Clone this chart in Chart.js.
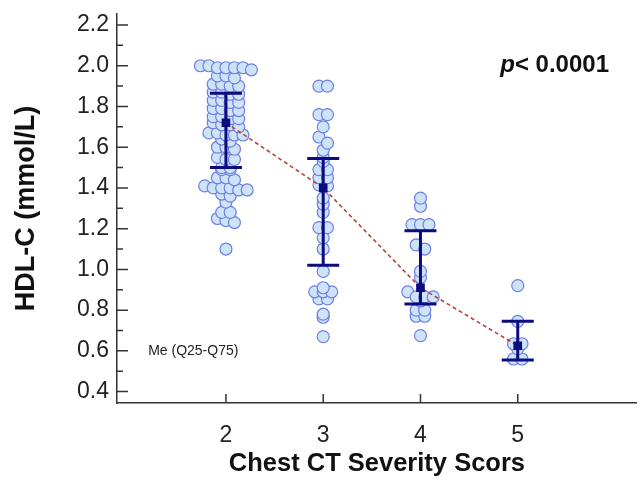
<!DOCTYPE html>
<html>
<head>
<meta charset="utf-8">
<script src="https://cdn.jsdelivr.net/npm/chart.js@4.4.1/dist/chart.umd.min.js"></script>
<style>
  html, body { margin: 0; padding: 0; background: #fff; }
  #wrap { width: 644px; height: 488px; }
</style>
</head>
<body>
<div id="wrap"><canvas id="myChart"></canvas></div>
<script>
// severity score groups and HDL-C values
var groups = [2, 3, 4, 5];
var hdl2 = [2.00, 2.00, 1.99, 1.99, 1.99, 1.99, 1.98, 1.95, 1.95, 1.94, 1.91, 1.91, 1.90, 1.90,
  1.87, 1.87, 1.86, 1.86, 1.83, 1.83, 1.82, 1.82, 1.79, 1.79, 1.78, 1.78, 1.75, 1.75, 1.74, 1.74,
  1.72, 1.71, 1.71, 1.70, 1.67, 1.67, 1.66, 1.66, 1.66, 1.64, 1.63, 1.60, 1.60, 1.59,
  1.55, 1.54, 1.54, 1.50, 1.50, 1.49, 1.49, 1.45, 1.45, 1.44, 1.41, 1.40, 1.40, 1.40, 1.39, 1.39,
  1.37, 1.36, 1.33, 1.28, 1.28, 1.25, 1.24, 1.23, 1.10];
var hdl3 = [1.90, 1.90, 1.76, 1.76, 1.70, 1.65, 1.62, 1.585, 1.55, 1.53, 1.49, 1.49, 1.45, 1.45,
  1.415, 1.41, 1.35, 1.32, 1.28, 1.205, 1.205, 1.155, 1.10, 0.99, 0.91, 0.89, 0.89, 0.89,
  0.855, 0.855, 0.78, 0.765, 0.67];
var hdl4 = [1.35, 1.31, 1.22, 1.22, 1.22, 1.12, 1.10, 0.99, 0.96, 0.89, 0.865, 0.865, 0.865,
  0.845, 0.80, 0.80, 0.77, 0.77, 0.675];
var hdl5 = [0.92, 0.745, 0.635, 0.635, 0.61, 0.56, 0.56];
var medians = [1.72, 1.40, 0.91, 0.625];
var q25 = [1.50, 1.02, 0.83, 0.555];
var q75 = [1.865, 1.545, 1.19, 0.745];
var yTicks = [0.4, 0.6, 0.8, 1.0, 1.2, 1.4, 1.6, 1.8, 2.0, 2.2];

// dot-plot layout: values in the same small bin are set side by side
var PX_X = 97.3, BIN = 0.04, STEP = 8.5;
function dotplot(center, vals) {
  var bins = {};
  vals.forEach(function (v) {
    var b = Math.round(v / BIN);
    (bins[b] = bins[b] || []).push(v);
  });
  var out = [];
  Object.keys(bins).forEach(function (b) {
    var row = bins[b];
    row.forEach(function (v, i) {
      var off = (i - (row.length - 1) / 2) * STEP;
      out.push({ x: center + off / PX_X, y: v });
    });
  });
  return out;
}

var points = [].concat(dotplot(2, hdl2), dotplot(3, hdl3), dotplot(4, hdl4), dotplot(5, hdl5));
var medianPts = groups.map(function (g, i) { return { x: g, y: medians[i] }; });

var NAVY = "#0c0c80";
var FONT = "'Liberation Sans', Arial, sans-serif";

var extras = {
  id: "extras",
  afterDatasetDraw: function (chart, args) {
    if (args.index !== 1) return;
    var ctx = chart.ctx, xs = chart.scales.x, ys = chart.scales.y;
    ctx.save();
    ctx.strokeStyle = NAVY;
    ctx.lineWidth = 3;
    groups.forEach(function (g, i) {
      var x = xs.getPixelForValue(g);
      var yt = ys.getPixelForValue(q75[i]), yb = ys.getPixelForValue(q25[i]);
      ctx.beginPath();
      ctx.moveTo(x, yt); ctx.lineTo(x, yb);
      ctx.moveTo(x - 16, yt); ctx.lineTo(x + 16, yt);
      ctx.moveTo(x - 16, yb); ctx.lineTo(x + 16, yb);
      ctx.stroke();
    });
    ctx.restore();
  },
  afterDraw: function (chart) {
    var ctx = chart.ctx, xs = chart.scales.x, ys = chart.scales.y;
    var left = chart.chartArea.left, bottom = chart.chartArea.bottom;
    ctx.save();
    ctx.strokeStyle = "#333";
    ctx.lineWidth = 1.5;
    ctx.beginPath();
    yTicks.forEach(function (v, i) {
      var y = ys.getPixelForValue(v);
      ctx.moveTo(left, y); ctx.lineTo(left + 11, y);
      if (i < yTicks.length - 1) {
        var ym = ys.getPixelForValue(v + 0.1);
        ctx.moveTo(left, ym); ctx.lineTo(left + 6, ym);
      }
    });
    groups.forEach(function (g) {
      var x = xs.getPixelForValue(g);
      ctx.moveTo(x, bottom); ctx.lineTo(x, bottom - 9);
    });
    ctx.stroke();

    // p-value annotation
    ctx.fillStyle = "#111";
    ctx.textBaseline = "middle";
    var px = xs.getPixelForValue(4.82), py = ys.getPixelForValue(2.0);
    ctx.font = "italic bold 24px " + FONT;
    ctx.fillText("p", px, py);
    var w = ctx.measureText("p").width;
    ctx.font = "bold 24px " + FONT;
    ctx.fillText("< 0.0001", px + w, py);

    ctx.font = "14px " + FONT;
    ctx.fillStyle = "#222";
    ctx.fillText("Me (Q25-Q75)", xs.getPixelForValue(1.2), ys.getPixelForValue(0.6));
    ctx.restore();
  }
};

var ctx = document.getElementById("myChart");
var myChart = new Chart(ctx, {
  type: "scatter",
  data: {
    datasets: [
      {
        type: "line",
        data: medianPts,
        borderColor: "#b5453c",
        borderWidth: 1.6,
        borderDash: [4, 3],
        pointStyle: "rect",
        pointRadius: 5,
        pointBackgroundColor: NAVY,
        pointBorderColor: NAVY,
        fill: false
      },
      {
        data: points,
        pointRadius: 6,
        backgroundColor: "#cfe3f8",
        borderColor: "#6c80e4",
        borderWidth: 1.2
      }
    ]
  },
  options: {
    responsive: true,
    maintainAspectRatio: false,
    animation: false,
    layout: { padding: 0 },
    plugins: { legend: { display: false }, tooltip: { enabled: false } },
    scales: {
      x: {
        type: "linear",
        min: 0.88,
        max: 6.224,
        afterBuildTicks: function (s) { s.ticks = groups.map(function (g) { return { value: g }; }); },
        afterFit: function (s) { s.height = 85; s.paddingLeft = 0; s.paddingRight = 0; },
        grid: { display: false, drawTicks: false },
        border: { color: "#333", width: 1.5 },
        ticks: {
          padding: 19,
          color: "#222",
          font: { family: FONT, size: 23 }
        },
        title: {
          display: true,
          text: "Chest CT Severity Scors",
          color: "#111",
          padding: { top: 0, bottom: 9 },
          font: { family: FONT, size: 25.5, weight: "bold", lineHeight: 1.2 }
        }
      },
      y: {
        min: 0.344,
        max: 2.254,
        afterBuildTicks: function (s) { s.ticks = yTicks.map(function (v) { return { value: v }; }); },
        afterFit: function (s) { s.width = 117; s.paddingTop = 14; s.paddingBottom = 0; },
        grid: { display: false, drawTicks: false },
        border: { color: "#333", width: 1.5 },
        ticks: {
          padding: 8,
          color: "#222",
          font: { family: FONT, size: 23 },
          callback: function (v) { return Number(v).toFixed(1); }
        },
        title: {
          display: true,
          text: "HDL-C (mmol/L)",
          color: "#111",
          padding: { top: 10, bottom: 0 },
          font: { family: FONT, size: 27, weight: "bold", lineHeight: 1.2 }
        }
      }
    }
  },
  plugins: [extras]
});
</script>
</body>
</html>
